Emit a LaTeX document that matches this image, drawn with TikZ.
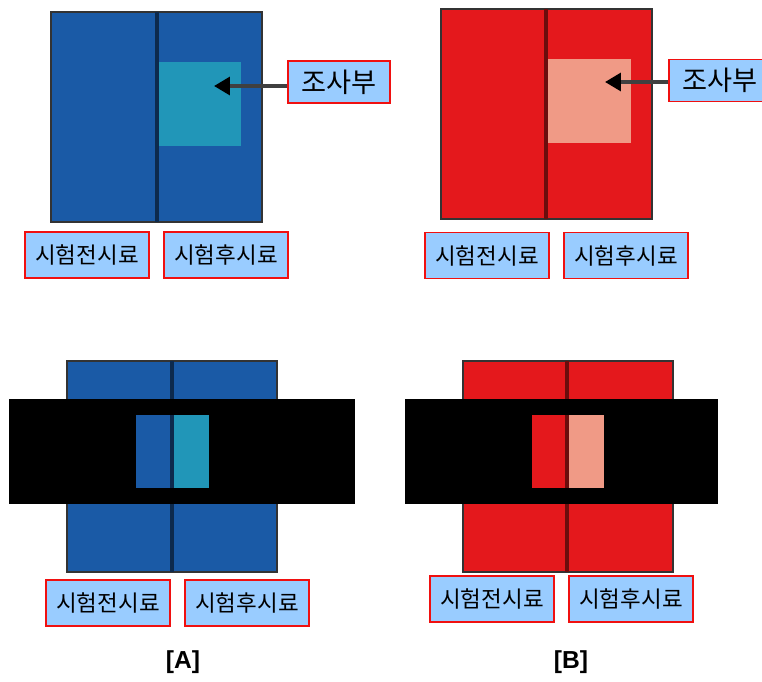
\documentclass[tikz,border=0pt]{standalone}
\usepackage{fontspec}
\setmainfont{Liberation Sans}
\newfontfamily\kr{Noto Sans CJK KR}
\usetikzlibrary{arrows.meta}

\definecolor{sampblue}{HTML}{1A5AA6}
\definecolor{spotblue}{HTML}{2196B8}
\definecolor{linblue}{HTML}{0D2A4D}
\definecolor{sampred}{HTML}{E4181C}
\definecolor{spotred}{HTML}{F09A86}
\definecolor{linred}{HTML}{6B0D0D}
\definecolor{tagfill}{HTML}{99CCFF}
\definecolor{tagline}{HTML}{F01010}

\begin{document}
\begin{tikzpicture}[x=0.02cm,y=-0.02cm]
    % Styles
    \tikzset{
      tag/.style={draw=tagline,fill=tagfill,line width=0.8pt,inner sep=0pt,
        minimum width=2.48cm,minimum height=0.92cm,font=\kr\fontsize{12.8}{14}\selectfont},
      spot tag/.style={tag,minimum width=2.04cm,minimum height=0.84cm,
        font=\kr\fontsize{15.5}{17}\selectfont},
      frame/.style={draw=black!80,line width=1pt},
      divider/.style={line width=2pt},
      pointer/.style={draw=black!75,line width=2.2pt,
        -{Triangle[length=9pt,width=10pt,color=black]}},
      panel title/.style={font=\fontsize{14}{16}\selectfont\bfseries}
    }
    \useasboundingbox (0,0) rectangle (762,681);

    % --- Top left: blue sample, face view ---
    \draw[frame,fill=sampblue] (51,12) rectangle (262,222);
    \fill[spotblue] (157,62) rectangle (241,146);
    \draw[divider,linblue] (157,12) -- (157,222);
    \coordinate (tipA) at (214,86);
    \node[spot tag] (spotA) at (339,82) {조사부};
    \draw[pointer] (spotA.west |- tipA) -- (tipA);
    \node[tag] (preA) at (87,255) {시험전시료};
    \node[tag] (postA) at (226,255) {시험후시료};

    % --- Top right: red sample, face view ---
    \draw[frame,fill=sampred] (441,9) rectangle (652,219);
    \fill[spotred] (546,59) rectangle (631,143);
    \draw[divider,linred] (546,9) -- (546,219);
    \coordinate (tipB) at (605,82);
    \node[spot tag] (spotB) at (720,80.5) {조사부};
    \draw[pointer] (spotB.west |- tipB) -- (tipB);
    \node[tag] (preB) at (487,255.5) {시험전시료};
    \node[tag] (postB) at (626,255.5) {시험후시료};

    % --- Bottom left: blue sample under the mask ---
    \draw[frame,fill=sampblue] (67,361) rectangle (277,572);
    \draw[divider,linblue] (172,361) -- (172,572);
    \fill[black] (9,399) rectangle (355,504);
    \fill[sampblue] (136,415) rectangle (172,488);
    \fill[spotblue] (172,415) rectangle (209,488);
    \draw[divider,linblue] (172,415) -- (172,488);
    \node[tag] (preC) at (108,603) {시험전시료};
    \node[tag] (postC) at (247,603) {시험후시료};
    \node[panel title] (titleA) at (183,662) {[A]};

    % --- Bottom right: red sample under the mask ---
    \draw[frame,fill=sampred] (463,361) rectangle (673,572);
    \draw[divider,linred] (567,361) -- (567,572);
    \fill[black] (405,399) rectangle (718,504);
    \fill[sampred] (532,415) rectangle (567,488);
    \fill[spotred] (567,415) rectangle (604,488);
    \draw[divider,linred] (567,415) -- (567,488);
    \node[tag] (preD) at (492,599) {시험전시료};
    \node[tag] (postD) at (631,599) {시험후시료};
    \node[panel title] (titleB) at (571,662) {[B]};
\end{tikzpicture}
\end{document}
